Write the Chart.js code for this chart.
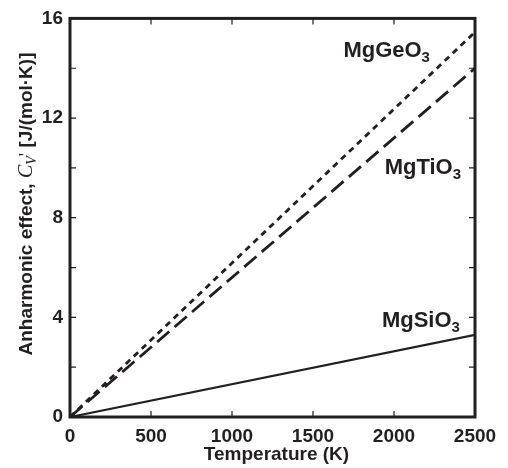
<!DOCTYPE html>
<html>
<head>
<meta charset="utf-8">
<script src="https://cdn.jsdelivr.net/npm/chart.js@4/dist/chart.umd.min.js"></script>
<style>
  html, body { margin: 0; padding: 0; background: #fff; }
  #wrap { width: 508px; height: 468px; }
</style>
</head>
<body>
<div id="wrap"><canvas id="chartCanvas" width="508" height="468"></canvas></div>
<script>
// data
const temps = [0, 2500];
const mgGeO3 = [0, 15.45];
const mgTiO3 = [0, 14.0];
const mgSiO3 = [0, 3.3];

const xTicks = [0, 500, 1000, 1500, 2000, 2500];
const yTicks = [0, 4, 8, 12, 16];

// label text, anchor (right edge, baseline) in data units
const curveLabels = [
  { name: "MgGeO", sub: "3", x: 2222, y: 14.47 },
  { name: "MgTiO", sub: "3", x: 2414, y: 9.75 },
  { name: "MgSiO", sub: "3", x: 2407, y: 3.6 }
];

const FONT = "'Liberation Sans', Arial, Helvetica, sans-serif";
const ink = "#231f20";

function toPoints(ys) {
  return temps.map((t, i) => ({ x: t, y: ys[i] }));
}

const decor = {
  id: "decor",
  afterDraw(chart) {
    const ctx = chart.ctx;
    const xs = chart.scales.x;
    const ys = chart.scales.y;
    const a = chart.chartArea;
    ctx.save();
    ctx.strokeStyle = ink;
    ctx.fillStyle = ink;

    // inward ticks on all four sides
    ctx.lineWidth = 1.2;
    ctx.beginPath();
    for (let v = 500; v < 2500; v += 500) {
      const px = xs.getPixelForValue(v);
      ctx.moveTo(px, a.bottom); ctx.lineTo(px, a.bottom - 6);
      ctx.moveTo(px, a.top); ctx.lineTo(px, a.top + 6);
    }
    for (let v = 2; v < 16; v += 2) {
      const py = ys.getPixelForValue(v);
      ctx.moveTo(a.left, py); ctx.lineTo(a.left + 6, py);
      ctx.moveTo(a.right, py); ctx.lineTo(a.right - 6, py);
    }
    ctx.stroke();

    // frame
    ctx.lineWidth = 3;
    ctx.strokeRect(a.left, a.top, a.right - a.left, a.bottom - a.top);

    // curve labels
    curveLabels.forEach(l => {
      const rx = xs.getPixelForValue(l.x);
      const by = ys.getPixelForValue(l.y);
      ctx.font = "bold 15px " + FONT;
      const sw = ctx.measureText(l.sub).width;
      ctx.textAlign = "left";
      ctx.textBaseline = "alphabetic";
      ctx.fillText(l.sub, rx - sw, by + 5);
      ctx.font = "bold 22px " + FONT;
      const mw = ctx.measureText(l.name).width;
      ctx.fillText(l.name, rx - sw - mw, by);
    });

    // x title
    ctx.font = "bold 19px " + FONT;
    ctx.textAlign = "center";
    ctx.fillText("Temperature (K)", (a.left + a.right) / 2 + 4, 460);

    // y title with italic C_V'
    const parts = [
      { t: "Anharmonic effect, ", f: "bold 19px " + FONT, dy: 0 },
      { t: "C", f: "italic 20px 'Liberation Serif', 'Times New Roman', serif", dy: 0 },
      { t: "V", f: "italic 14px 'Liberation Serif', 'Times New Roman', serif", dy: 4 },
      { t: "'", f: "19px 'Liberation Serif', serif", dy: 0 },
      { t: " [J/(mol\u00b7K)]", f: "bold 19px " + FONT, dy: 0 }
    ];
    let total = 0;
    parts.forEach(p => { ctx.font = p.f; p.w = ctx.measureText(p.t).width; total += p.w; });
    ctx.translate(32, 204);
    ctx.rotate(-Math.PI / 2);
    ctx.textAlign = "left";
    let cx = -total / 2;
    parts.forEach(p => {
      ctx.font = p.f;
      ctx.fillText(p.t, cx, p.dy);
      cx += p.w;
    });
    ctx.restore();
  }
};

const ctx = document.getElementById("chartCanvas").getContext("2d");
const chart = new Chart(ctx, {
  type: "line",
  data: {
    datasets: [
      { label: "MgGeO3", data: toPoints(mgGeO3), borderColor: ink, borderWidth: 2.8, borderDash: [6, 5], pointRadius: 0, fill: false },
      { label: "MgTiO3", data: toPoints(mgTiO3), borderColor: ink, borderWidth: 2.8, borderDash: [16, 7], pointRadius: 0, fill: false },
      { label: "MgSiO3", data: toPoints(mgSiO3), borderColor: ink, borderWidth: 2.2, pointRadius: 0, fill: false }
    ]
  },
  options: {
    responsive: false,
    animation: false,
    layout: { padding: { top: 13, right: 33, left: 0, bottom: 0 } },
    plugins: { legend: { display: false }, tooltip: { enabled: false } },
    scales: {
      x: {
        type: "linear",
        min: 0, max: 2500,
        afterFit(s) { s.height = 51; },
        afterBuildTicks(s) { s.ticks = xTicks.map(v => ({ value: v })); },
        grid: { display: false, drawTicks: false },
        border: { display: false },
        ticks: { color: ink, font: { family: FONT, size: 19, weight: "bold" }, padding: 8, maxRotation: 0, autoSkip: false, callback: v => String(v) }
      },
      y: {
        type: "linear",
        min: 0, max: 16,
        afterFit(s) { s.width = 70; },
        afterBuildTicks(s) { s.ticks = yTicks.map(v => ({ value: v })); },
        grid: { display: false, drawTicks: false },
        border: { display: false },
        ticks: { color: ink, font: { family: FONT, size: 19, weight: "bold" }, padding: 7, autoSkip: false, callback: v => String(v) }
      }
    }
  },
  plugins: [decor]
});
</script>
</body>
</html>
